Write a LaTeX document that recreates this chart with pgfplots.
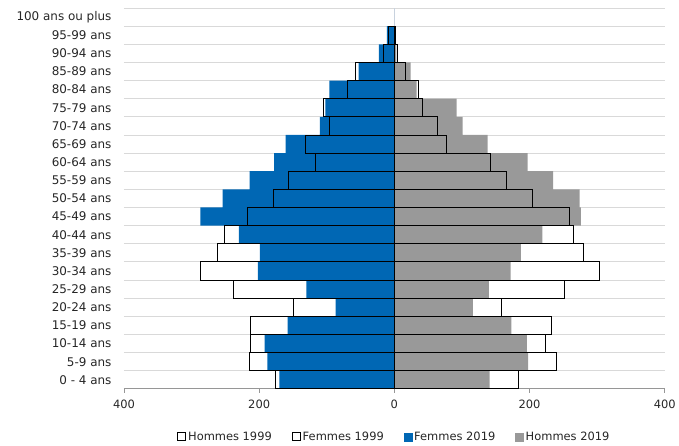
\documentclass[border=0pt]{standalone}
\usepackage{pgfplots}
\pgfplotsset{compat=1.18}
\usepackage{pgfplotstable}
\usepackage{fontspec}
\setmainfont{DejaVu Sans}
\definecolor{bleu}{RGB}{0,103,180}
\definecolor{gris}{RGB}{153,153,153}
\definecolor{grille}{RGB}{217,217,217}
\definecolor{zero}{RGB}{200,210,222}
\definecolor{axe}{RGB}{150,150,150}
\pgfplotstableread{
i f19 h99 f99 h19
0 170 176 184 141
1 188 215 240 198
2 192 213 224 196
3 158 213 233 173
4 87 149 159 116
5 130 238 252 140
6 202 287 304 172
7 199 261 280 187
8 230 251 265 219
9 287 218 259 276
10 254 179 204 274
11 214 156 166 235
12 178 117 142 197
13 161 132 77 138
14 110 96 64 101
15 102 105 41 92
16 96 70 35 33
17 53 58 16 24
18 23 16 5 3
19 11 9 1 1
}\pyr
\begin{document}
\begin{tikzpicture}
\path (-124bp,-57bp) rectangle (555bp,389bp);
\begin{axis}[
  at={(0,0)}, anchor=south west,
  scale only axis, width=541bp, height=381bp,
  xmin=-400, xmax=400, ymin=-0.5, ymax=20.5,
  xtick={-400,-200,0,200,400}, xticklabels={400,200,0,200,400},
  ytick={0,...,20},
  yticklabels={0 - 4 ans,5-9 ans,10-14 ans,15-19 ans,20-24 ans,25-29 ans,30-34 ans,35-39 ans,40-44 ans,45-49 ans,50-54 ans,55-59 ans,60-64 ans,65-69 ans,70-74 ans,75-79 ans,80-84 ans,85-89 ans,90-94 ans,95-99 ans,100 ans ou plus},
  minor ytick={-0.5,0.5,...,20.5},
  yminorgrids, ymajorgrids=false, xmajorgrids=false,
  minor grid style={grille, line width=0.9bp},
  axis x line*=bottom, axis y line*=left,
  y axis line style={draw=none},
  x axis line style={axe, line width=0.8bp},
  ytick style={draw=none}, minor y tick style={draw=none},
  xtick style={axe, line width=0.8bp},
  tick align=outside, major tick length=4bp,
  tick label style={font=\fontsize{11.5}{13}\selectfont, text=black!85},
  yticklabel style={font=\fontsize{12}{14}\selectfont, xshift=-5bp},
  xticklabel style={yshift=-4bp},
  /pgf/number format/assume math mode=true,
  legend style={at={(0.5,-0.126)}, anchor=center, draw=none, legend columns=4,
    font=\fontsize{11.5}{13}\selectfont, text=black!85,
    /tikz/every even column/.append style={column sep=18bp}},
  legend image code/.code={\draw[#1] (0bp,-4bp) rectangle (8bp,4bp);},
]
\addlegendimage{draw=black, fill=white, line width=0.9bp}
\addlegendentry{Hommes 1999}
\addlegendimage{draw=black, fill=white, line width=0.9bp}
\addlegendentry{Femmes 1999}
\addlegendimage{draw=bleu, fill=bleu}
\addlegendentry{Femmes 2019}
\addlegendimage{draw=gris, fill=gris}
\addlegendentry{Hommes 2019}
\draw[zero, line width=0.9bp] (axis cs:0,-0.5) -- (axis cs:0,20.5);
\addplot[xbar, bar width=1, bar shift=0pt, fill=bleu, draw=none, forget plot]
  table[y=i, x expr=-\thisrow{f19}] {\pyr};
\addplot[xbar, bar width=1, bar shift=0pt, fill=gris, draw=none, forget plot]
  table[y=i, x=h19] {\pyr};
\addplot[xbar, bar width=1, bar shift=0pt, fill=none, draw=black, line width=0.9bp, forget plot]
  table[y=i, x expr=-\thisrow{h99}] {\pyr};
\addplot[xbar, bar width=1, bar shift=0pt, fill=none, draw=black, line width=0.9bp, forget plot]
  table[y=i, x=f99] {\pyr};
\end{axis}
\end{tikzpicture}
\end{document}
